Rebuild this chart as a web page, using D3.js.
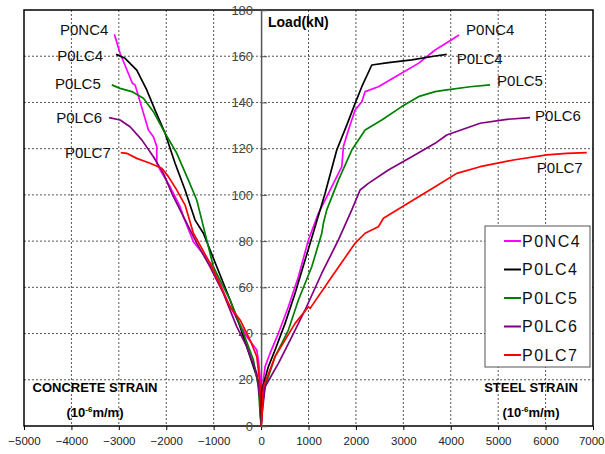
<!DOCTYPE html>
<html>
<head>
<meta charset="utf-8">
<script src="https://cdn.jsdelivr.net/npm/d3@7"></script>
<style>
  html, body { margin: 0; padding: 0; background: #fff; }
  svg { display: block; font-family: "Liberation Sans", Arial, sans-serif; }
</style>
</head>
<body>
<div class="canvas"></div>
<script>
// Series names and colours
const seriesNames = ['P0NC4', 'P0LC4', 'P0LC5', 'P0LC6', 'P0LC7'];
const seriesColors = ['#ff00ff', '#000000', '#008000', '#800080', '#ff0000'];

// Ticks
const xTicks = [-5000, -4000, -3000, -2000, -1000, 0, 1000, 2000, 3000, 4000, 5000, 6000, 7000];
const yTicks = [0, 20, 40, 60, 80, 100, 120, 140, 160, 180];

// Concrete strain branches [strain, load]
const p0nc4Concrete = [[0,0],[-21,10],[-21,21.3],[-57,28.6],[-91,32.9],[-302,38.6],[-724,54.5],[-1006,68.9],[-1428,79.7],[-1638,90.6],[-1708,94.9],[-1919,103.5],[-2130,110.8],[-2200,113.7],[-2200,120.9],[-2271,125.2],[-2376,128.1],[-2657,147.6],[-2714,148.3],[-2974,161.3],[-3094,169.5]];
const p0lc4Concrete = [[0,0],[-15,10],[-21,17.0],[-91,21.3],[-232,30.0],[-443,43.0],[-654,54.5],[-934,68.9],[-1217,83.4],[-1392,89.1],[-1603,102.1],[-1814,113.7],[-2025,126.7],[-2236,136.7],[-2411,145.4],[-2622,154.0],[-2868,159.1],[-3058,160.8]];
const p0lc5Concrete = [[0,0],[-21,5.5],[-57,17.0],[-162,28.6],[-373,40.1],[-654,54.5],[-1006,68.9],[-1286,92.0],[-1357,97.8],[-1533,106.4],[-1778,118.0],[-2025,126.7],[-2271,136.0],[-2482,141.8],[-2727,144.7],[-2974,146.1],[-3149,147.6]];
const p0lc6Concrete = [[0,0],[-15,10],[-91,22.8],[-302,34.3],[-513,43.0],[-795,57.4],[-1076,68.9],[-1357,79.1],[-1638,90.6],[-1814,97.8],[-1883,100.7],[-2060,109.3],[-2271,116.5],[-2516,123.8],[-2763,129.5],[-2974,132.4],[-3206,133.4]];
const p0lc7Concrete = [[0,0],[-15,8],[-21,17.0],[-57,24.2],[-91,30.0],[-232,37.2],[-443,45.9],[-654,51.6],[-1076,70.4],[-1428,83.4],[-1603,95.6],[-1778,102.1],[-1955,107.9],[-2094,111.5],[-2341,113.7],[-2622,115.8],[-2833,118.0],[-2959,118.3]];

// Steel strain branches [strain, load]
const p0nc4Steel = [[0,0],[15,5.5],[49,19.9],[84,25.7],[190,31.5],[365,40.1],[576,51.6],[787,64.6],[998,80.5],[1209,92.0],[1455,102.1],[1702,112.2],[1736,120.9],[1842,128.1],[1983,136.7],[2124,140.3],[2194,144.7],[2474,146.8],[2896,151.9],[3318,156.9],[3670,162.7],[3951,166.3],[4176,169.2]];
const p0lc4Steel = [[0,0],[15,15.6],[154,25.7],[295,32.9],[506,44.4],[717,57.4],[928,71.8],[1139,86.2],[1350,100.7],[1596,119.4],[1807,130.2],[1983,139.6],[2124,146.8],[2335,156.2],[2685,157.2],[3178,158.4],[3670,160.1],[3916,160.8]];
const p0lc5Steel = [[0,0],[15,6.9],[84,17.0],[295,30.0],[576,41.5],[787,54.5],[1069,68.9],[1280,83.4],[1314,87.7],[1385,93.5],[1631,106.4],[1913,119.4],[2194,128.1],[2545,132.4],[2967,138.2],[3318,142.5],[3670,144.7],[3916,145.4],[4408,146.8],[4830,147.6]];
const p0lc6Steel = [[0,0],[15,4.0],[84,17.0],[365,27.1],[647,38.6],[928,50.2],[1280,66.1],[1631,80.5],[1913,93.5],[2088,102.1],[2263,105.0],[2685,110.8],[3178,116.5],[3670,122.3],[3916,125.9],[4619,131.0],[5182,132.7],[5673,133.4]];
const p0lc7Steel = [[0,0],[15,2.6],[49,17.0],[295,30.0],[717,44.4],[998,51.6],[1034,50.9],[1491,64.6],[1983,79.1],[2194,83.4],[2474,86.2],[2580,89.9],[3037,95.6],[3670,103.5],[4127,109.3],[4619,112.2],[5321,115.1],[6025,117.3],[6447,118.0],[6869,118.3]];

const concreteData = [p0nc4Concrete, p0lc4Concrete, p0lc5Concrete, p0lc6Concrete, p0lc7Concrete];
const steelData = [p0nc4Steel, p0lc4Steel, p0lc5Steel, p0lc6Steel, p0lc7Steel];

// Label offsets (px) from the end of each branch
const leftLabelOffset = [[-6, -5], [-13, 1], [-11, -1], [-7, 0], [-10, 0]];
const rightLabelOffset = [[7, -5], [10, 4], [7, -4], [5, -2], [-50, 15]];

const dims = { width: 605, height: 454, left: 24, top: 10, right: 593, bottom: 426 };

const svg = d3.select('.canvas').append('svg')
    .attr('width', dims.width)
    .attr('height', dims.height);

const x = d3.scaleLinear().domain([-5000, 7000]).range([dims.left, dims.right]);
const y = d3.scaleLinear().domain([0, 180]).range([dims.bottom, dims.top]);

// Grid
svg.append('g').selectAll('line')
    .data(xTicks.filter(d => d > -5000 && d < 7000 && d !== 0))
    .enter().append('line')
    .attr('x1', d => x(d)).attr('x2', d => x(d))
    .attr('y1', dims.top).attr('y2', dims.bottom)
    .attr('stroke', '#555').attr('stroke-width', 1)
    .attr('stroke-dasharray', '2,2');

svg.append('g').selectAll('line')
    .data(yTicks.filter(d => d > 0 && d < 180))
    .enter().append('line')
    .attr('x1', dims.left).attr('x2', dims.right)
    .attr('y1', d => y(d)).attr('y2', d => y(d))
    .attr('stroke', '#555').attr('stroke-width', 1)
    .attr('stroke-dasharray', '2,2');

// Frame
svg.append('rect')
    .attr('x', dims.left).attr('y', dims.top)
    .attr('width', dims.right - dims.left).attr('height', dims.bottom - dims.top)
    .attr('fill', 'none').attr('stroke', '#000').attr('stroke-width', 1.5);

// X axis
const xAxis = d3.axisBottom(x).tickValues(xTicks).tickSize(4).tickFormat(d => d < 0 ? '\u2212' + Math.abs(d) : d);
const gx = svg.append('g').attr('transform', `translate(0, ${dims.bottom})`).call(xAxis);
gx.select('.domain').remove();
gx.selectAll('text').attr('font-size', 11.5).attr('fill', '#222').attr('dy', '1.05em')
    .attr('font-family', '"Liberation Sans", Arial, sans-serif')
    .filter(d => d === 7000).attr('text-anchor', 'end').attr('x', 11);

// Y axis in the centre
const yAxis = d3.axisRight(y).tickValues(yTicks).tickSize(6).tickFormat(d3.format('d'));
const gy = svg.append('g').attr('transform', `translate(${x(0)}, 0)`).call(yAxis);
gy.select('.domain').attr('stroke', '#555').attr('stroke-width', 1.5);
gy.selectAll('line').attr('stroke', '#555');
gy.selectAll('text')
    .attr('x', -8).attr('text-anchor', 'end')
    .attr('font-size', 13).attr('fill', '#444')
    .attr('font-family', '"Liberation Sans", Arial, sans-serif');

// Curves
const line = d3.line().x(d => x(d[0])).y(d => y(d[1]));

svg.append('g').selectAll('path.concrete')
    .data(concreteData)
    .enter().append('path')
    .attr('class', 'concrete')
    .attr('fill', 'none')
    .attr('stroke', (d, i) => seriesColors[i])
    .attr('stroke-width', 1.7)
    .attr('stroke-linejoin', 'round')
    .attr('d', line);

svg.append('g').selectAll('path.steel')
    .data(steelData)
    .enter().append('path')
    .attr('class', 'steel')
    .attr('fill', 'none')
    .attr('stroke', (d, i) => seriesColors[i])
    .attr('stroke-width', 1.7)
    .attr('stroke-linejoin', 'round')
    .attr('d', line);

// Series labels
svg.append('g').selectAll('text')
    .data(concreteData)
    .enter().append('text')
    .attr('x', (d, i) => x(d[d.length - 1][0]) + leftLabelOffset[i][0])
    .attr('y', (d, i) => y(d[d.length - 1][1]) + leftLabelOffset[i][1])
    .attr('dy', '0.35em')
    .attr('text-anchor', 'end')
    .attr('font-size', 15).attr('fill', '#111')
    .text((d, i) => seriesNames[i]);

svg.append('g').selectAll('text')
    .data(steelData)
    .enter().append('text')
    .attr('x', (d, i) => x(d[d.length - 1][0]) + rightLabelOffset[i][0])
    .attr('y', (d, i) => y(d[d.length - 1][1]) + rightLabelOffset[i][1])
    .attr('dy', '0.35em')
    .attr('text-anchor', 'start')
    .attr('font-size', 15).attr('fill', '#111')
    .text((d, i) => seriesNames[i]);

// Axis titles
svg.append('text')
    .attr('x', 268).attr('y', 27)
    .attr('font-size', 14).attr('font-weight', 'bold')
    .text('Load(kN)');

function strainTitle(cx, label) {
    svg.append('text')
        .attr('x', cx).attr('y', 392)
        .attr('text-anchor', 'middle')
        .attr('font-size', 13).attr('font-weight', 'bold')
        .text(label);
    const t = svg.append('text')
        .attr('x', cx).attr('y', 417)
        .attr('text-anchor', 'middle')
        .attr('font-size', 13).attr('font-weight', 'bold');
    t.append('tspan').text('(10');
    t.append('tspan').attr('dy', -5).attr('font-size', 8).text('-6');
    t.append('tspan').attr('dy', 5).text('m/m)');
}
strainTitle(95, 'CONCRETE STRAIN');
strainTitle(531, 'STEEL STRAIN');

// Legend
const legend = svg.append('g').attr('transform', 'translate(485, 226)');
legend.append('rect')
    .attr('width', 105).attr('height', 141)
    .attr('fill', '#fff').attr('stroke', '#555').attr('stroke-width', 1);

const rows = legend.selectAll('g.row')
    .data(seriesNames)
    .enter().append('g')
    .attr('class', 'row')
    .attr('transform', (d, i) => `translate(0, ${15 + i * 28.5})`);

rows.append('line')
    .attr('x1', 19).attr('x2', 36)
    .attr('stroke', (d, i) => seriesColors[i])
    .attr('stroke-width', 2);

rows.append('text')
    .attr('x', 37).attr('dy', '0.36em')
    .attr('font-size', 16).attr('letter-spacing', 1.5)
    .attr('fill', '#111')
    .text(d => d);
</script>
</body>
</html>
